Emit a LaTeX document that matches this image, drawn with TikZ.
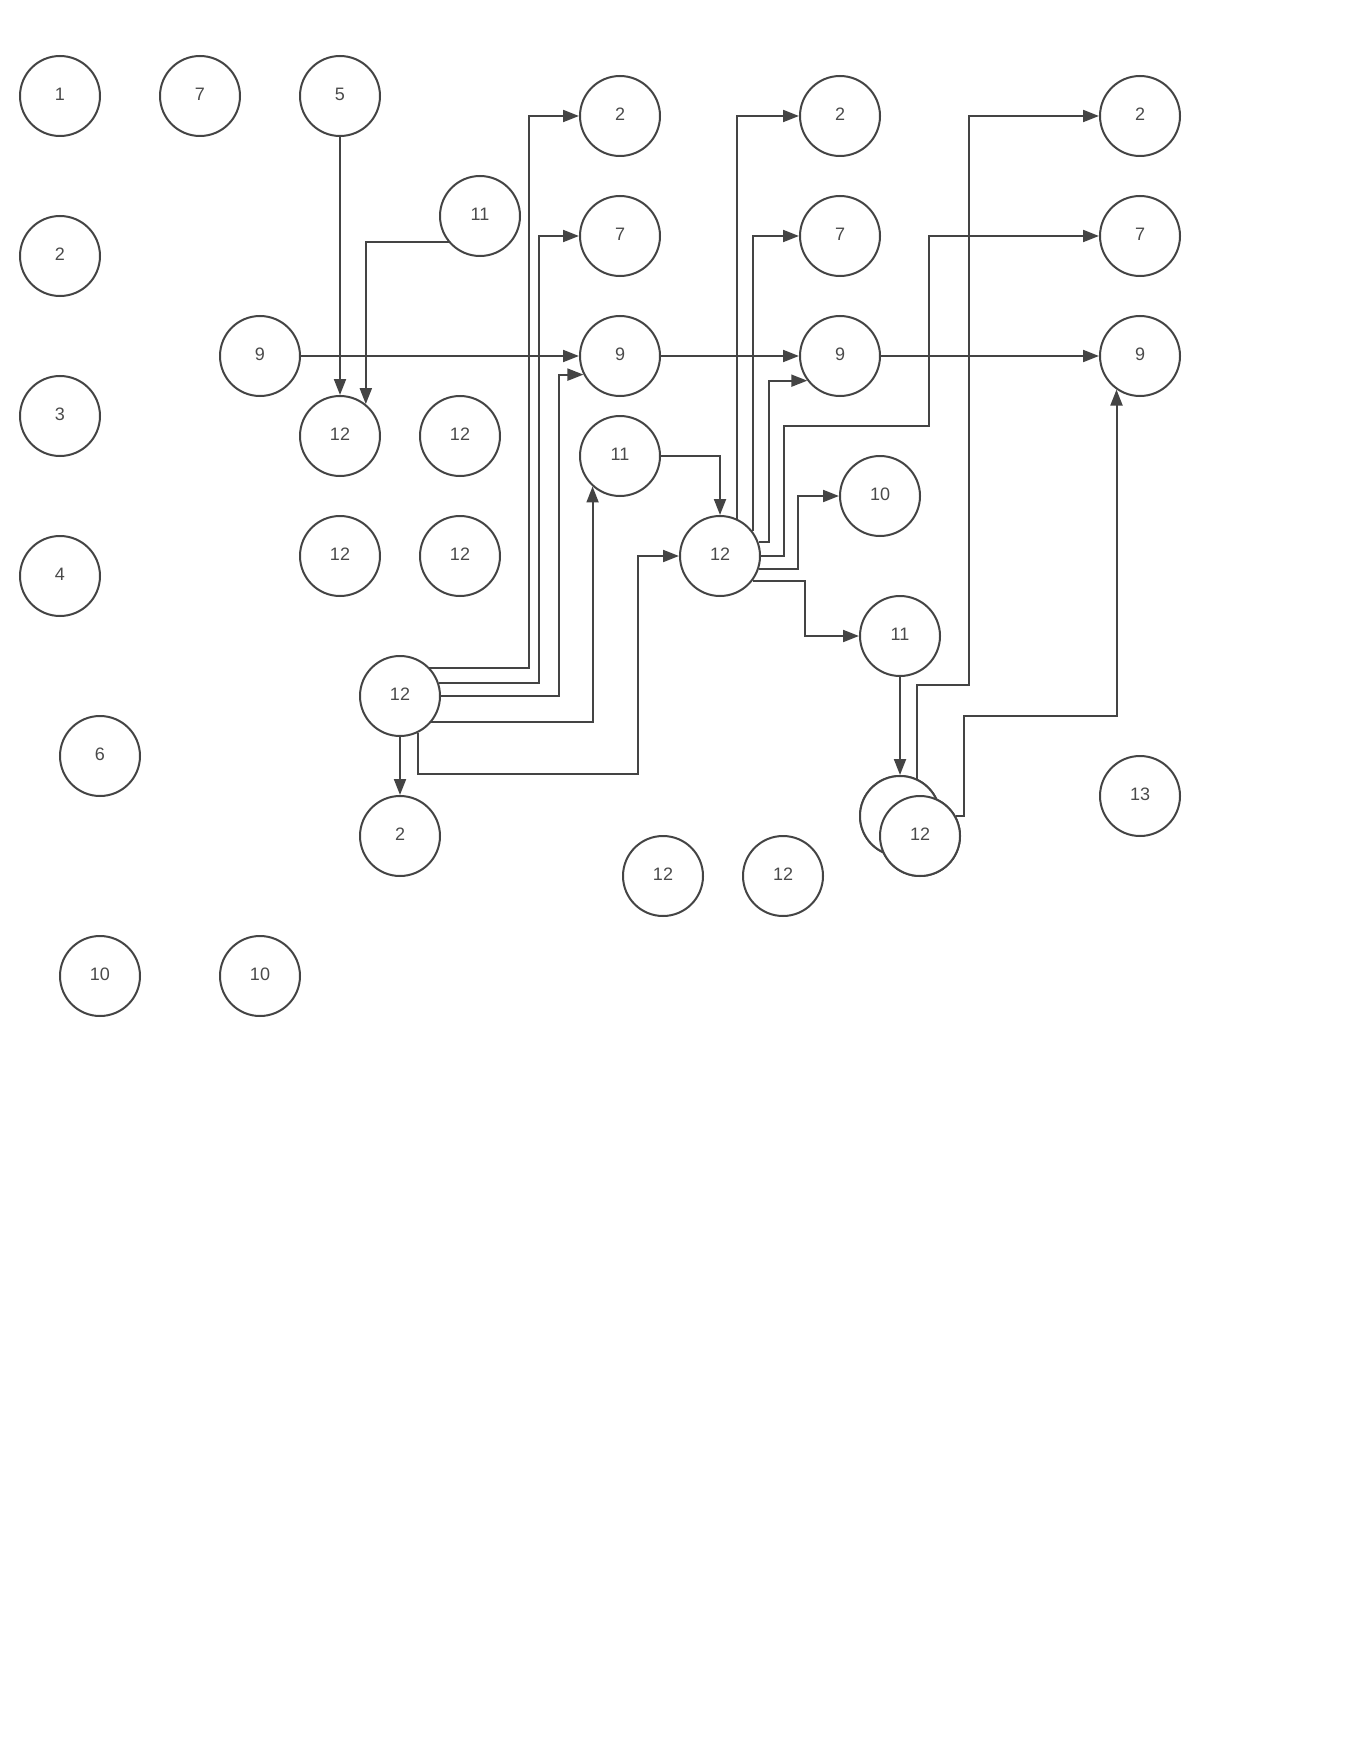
\documentclass[tikz,border=0pt]{standalone}
\usepackage{fontspec}
\setmainfont{Liberation Sans}
\usetikzlibrary{arrows.meta,calc}
\definecolor{ln}{HTML}{444444}
\definecolor{tx}{HTML}{4A4A4A}
\begin{document}
\begin{tikzpicture}[x=1pt,y=-1pt,
  vert/.style={circle,draw=ln,line width=2pt,fill=white,minimum size=80pt,inner sep=0pt,
    text=tx,font=\fontsize{18}{20}\selectfont,text depth=3pt},
  conn/.style={draw=ln,line width=2pt,-{Triangle[length=16pt,width=12pt]}}]
\useasboundingbox (0,0) rectangle (1360,1760);
\path
 (60,96)   node[vert] (a1) {1}
 (200,96)  node[vert] (a7) {7}
 (340,96)  node[vert] (a5) {5}
 (60,256)  node[vert] (b2) {2}
 (60,416)  node[vert] (b3) {3}
 (60,576)  node[vert] (b4) {4}
 (100,756) node[vert] (b6) {6}
 (100,976) node[vert] (c10) {10}
 (260,976) node[vert] (d10) {10}
 (260,356) node[vert] (n9a) {9}
 (480,216) node[vert] (n11a) {11}
 (340,436) node[vert] (n12a) {12}
 (460,436) node[vert] (n12b) {12}
 (340,556) node[vert] (n12c) {12}
 (460,556) node[vert] (n12d) {12}
 (400,696) node[vert] (n12e) {12}
 (400,836) node[vert] (n2a) {2}
 (620,116) node[vert] (n2b) {2}
 (620,236) node[vert] (n7b) {7}
 (620,356) node[vert] (n9b) {9}
 (620,456) node[vert] (n11b) {11}
 (720,556) node[vert] (n12f) {12}
 (840,116) node[vert] (n2c) {2}
 (840,236) node[vert] (n7c) {7}
 (840,356) node[vert] (n9c) {9}
 (880,496) node[vert] (n10a) {10}
 (900,636) node[vert] (n11c) {11}
 (663,876) node[vert] (n12i) {12}
 (783,876) node[vert] (n12j) {12}
 (1140,116) node[vert] (n2d) {2}
 (1140,236) node[vert] (n7d) {7}
 (1140,356) node[vert] (n9d) {9}
 (1140,796) node[vert] (n13) {13}
 (900,816) node[vert] (n12g) {12}
 (920,836) node[vert] (n12h) {12};
% edges
\draw[conn] (a5) -- (n12a);
\draw[conn] (n11a.220) -| (n12a.51);
\draw[conn] (n9a) -- (n9b);
\draw[conn] (n9b) -- (n9c);
\draw[conn] (n9c) -- (n9d);
\draw[conn] (n12e.44) -| ($(n2b.west)+(-50,0)$) -- (n2b.west);
\draw[conn] (n12e.19) -| ($(n7b.west)+(-40,0)$) -- (n7b.west);
\draw[conn] (n12e.east) -| ($(n9b.207)+(-24,0)$) -- (n9b.207);
\draw[conn] (n12e.-40) -| (n11b.228);
\draw[conn] (n12e.-64) -- ++(0,41) -| ($(n12f.west)+(-41,0)$) -- (n12f.west);
\draw[conn] (n12e) -- (n2a);
\draw[conn] (n11b.east) -| (n12f.north);
\draw[conn] (n12f.65) |- (n2c.west);
\draw[conn] (n12f.37) |- (n7c.west);
\draw[conn] (n12f.20) -| ($(n9c.217)+(-38,0)$) -- (n9c.217);
\draw[conn] (n12f.east) -| ($(n12f.east)+(23,-130)$) -| ($(n7d.west)+(-170,0)$) -- (n7d.west);
\draw[conn] (n12f.-19) -| ($(n10a.west)+(-41,0)$) -- (n10a.west);
\draw[conn] (n12f.-37) -| ($(n11c.west)+(-54,0)$) -- (n11c.west);
\draw[conn] (n11c) -- (n12g);
\draw[conn] (n12g.65) -- ++(0,-94) -| ($(n2d.west)+(-130,0)$) -- (n2d.west);
\draw[conn] (n12h.30) -| ($(n12h.30)+(8,-100)$) -| (n9d.235);
% overlapping pair drawn again above the edges
\path
 (900,816) node[vert] {12}
 (920,836) node[vert] {12};
\end{tikzpicture}
\end{document}
